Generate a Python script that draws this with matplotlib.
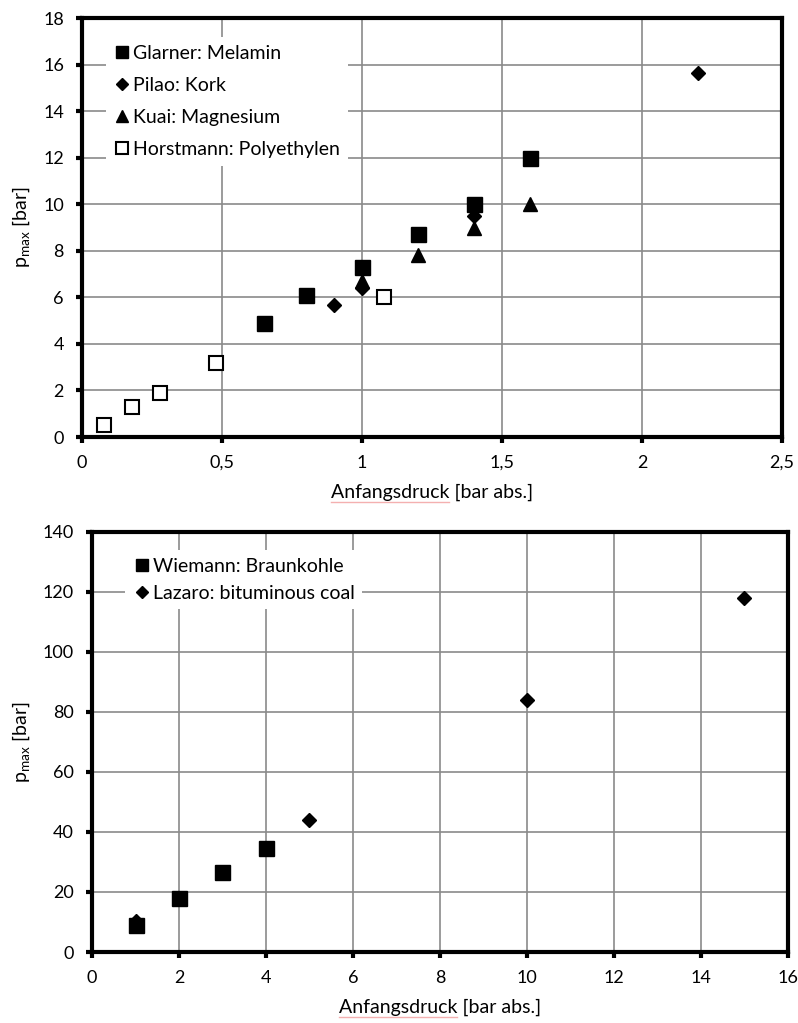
import matplotlib
matplotlib.use("Agg")
import matplotlib.pyplot as plt
from matplotlib.lines import Line2D

plt.rcParams['font.family'] = ['Lato', 'DejaVu Sans']
plt.rcParams['font.size'] = 13

# Oberes Diagramm: Stäube bei niedrigem Anfangsdruck
glarner_x = [0.65, 0.8, 1.0, 1.2, 1.4, 1.6]
glarner_y = [4.9, 6.1, 7.3, 8.7, 10.0, 12.0]
pilao_x = [0.9, 1.0, 1.4, 2.2]
pilao_y = [5.65, 6.4, 9.5, 15.65]
kuai_x = [1.0, 1.2, 1.4, 1.6]
kuai_y = [6.7, 7.8, 9.0, 10.0]
horst_x = [0.08, 0.18, 0.28, 0.48, 1.08]
horst_y = [0.5, 1.3, 1.9, 3.2, 6.0]

# Unteres Diagramm: Kohlestäube
wiemann_x = [1, 2, 3, 4]
wiemann_y = [9, 18, 26.5, 34.5]
lazaro_x = [1, 5, 10, 15]
lazaro_y = [10.5, 44, 84, 118]

top_xticks = [0, 0.5, 1, 1.5, 2, 2.5]
top_xlabels = ['0', '0,5', '1', '1,5', '2', '2,5']

xlabel_text = 'Anfangsdruck [bar abs.]'


def style_axes(ax):
    for s in ax.spines.values():
        s.set_linewidth(3)
        s.set_color('black')
    ax.grid(True, color='#8a8a8a', linewidth=1.2)
    ax.set_axisbelow(True)
    ax.tick_params(direction='out', length=4, width=3, color='black', pad=9)
    ax.set_xlabel(xlabel_text, labelpad=9, fontsize=14)
    ax.set_ylabel(r'p$_{\mathregular{max}}$ [bar]', labelpad=8, fontsize=14)


fig = plt.figure(figsize=(7.98, 10.23), dpi=100)

ax1 = fig.add_axes([0.1028, 0.5728, 0.877, 0.4096])
ax1.plot(glarner_x, glarner_y, 's', color='black', ms=10.8, label='Glarner: Melamin', zorder=3)
ax1.plot(pilao_x, pilao_y, 'D', color='black', ms=6.8, label='Pilao: Kork', zorder=3)
ax1.plot(kuai_x, kuai_y, '^', color='black', ms=10.5, label='Kuai: Magnesium', zorder=3)
ax1.plot(horst_x, horst_y, 's', mfc='white', mec='black', mew=1.5, ms=9.5,
         label='Horstmann: Polyethylen', zorder=3)
ax1.set_xlim(0, 2.5)
ax1.set_ylim(0, 18)
ax1.set_xticks(top_xticks)
ax1.set_xticklabels(top_xlabels)
ax1.set_yticks(range(0, 19, 2))
style_axes(ax1)
ax1.legend(loc='upper left', bbox_to_anchor=(0.034, 0.955), frameon=True,
           fancybox=False, edgecolor='none', facecolor='white', framealpha=1,
           handletextpad=0.1, handlelength=0.9, labelspacing=0.78,
           borderaxespad=0, fontsize=14, markerscale=0.85)

ax2 = fig.add_axes([0.1153, 0.0694, 0.872, 0.4106])
ax2.plot(wiemann_x, wiemann_y, 's', color='black', ms=10.8, label='Wiemann: Braunkohle', zorder=3)
ax2.plot(lazaro_x, lazaro_y, 'D', color='black', ms=7, label='Lazaro: bituminous coal', zorder=2)
ax2.set_xlim(0, 16)
ax2.set_ylim(0, 140)
ax2.set_xticks(range(0, 17, 2))
ax2.set_yticks(range(0, 141, 20))
style_axes(ax2)
ax2.legend(loc='upper left', bbox_to_anchor=(0.048, 0.957), frameon=True,
           fancybox=False, edgecolor='none', facecolor='white', framealpha=1,
           handletextpad=0.1, handlelength=0.9, labelspacing=0.5,
           borderaxespad=0, fontsize=14, markerscale=0.85)

# Rechtschreib-Unterstreichung unter "Anfangsdruck"
fig.canvas.draw()
renderer = fig.canvas.get_renderer()
W, H = fig.bbox.width, fig.bbox.height
for ax in (ax1, ax2):
    lab = ax.xaxis.label
    bb = lab.get_window_extent(renderer)
    probe = fig.text(0, 0, 'Anfangsdruck', fontsize=14)
    wbb = probe.get_window_extent(renderer)
    probe.remove()
    x0 = bb.x0
    x1 = bb.x0 + wbb.width
    y = bb.y0 - 1
    fig.add_artist(Line2D([x0 / W, x1 / W], [y / H, y / H], color='#f4b0b0',
                          linewidth=1.0, transform=fig.transFigure))

fig.savefig('out.png', dpi=100)
